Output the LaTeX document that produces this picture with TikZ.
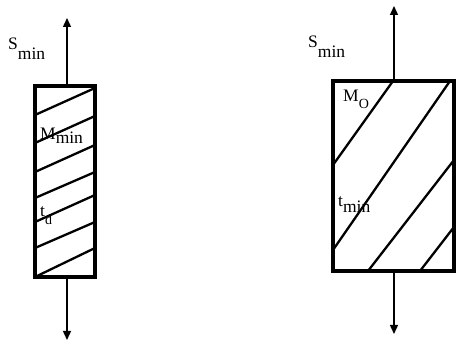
\documentclass[tikz,border=0pt]{standalone}
\usepackage{fontspec}
\setmainfont{Liberation Serif}
\usetikzlibrary{arrows.meta}
\begin{document}
\begin{tikzpicture}[x=1pt,y=-1pt,
  box/.style={draw, line width=3.6pt, inner sep=0pt, outer sep=0pt},
  hatch/.style={line width=2.3pt},
  force/.style={line width=1.4pt, -{Triangle[length=9pt,width=8pt]}},
  lbl/.style={font=\fontsize{17.5}{20}\selectfont, inner sep=0pt, anchor=base west}]
\useasboundingbox (0,0) rectangle (458,347);
% hatching, left specimen
\draw[hatch] (35,115) -- (95,88);
\draw[hatch] (35,143) -- (95,116);
\draw[hatch] (35,172) -- (95,145);
\draw[hatch] (35,198) -- (95,172);
\draw[hatch] (35,222) -- (95,195);
\draw[hatch] (35,248) -- (95,222);
\draw[hatch] (35,277) -- (95,248);
% hatching, right specimen
\draw[hatch] (333,165) -- (393,81);
\draw[hatch] (333,250) -- (450,81);
\draw[hatch] (368,271) -- (454,160);
\draw[hatch] (420,271) -- (454,227);
% specimens
\node[box, minimum width=60pt, minimum height=191pt] (L) at (65,181.5) {};
\node[box, minimum width=121pt, minimum height=190pt] (R) at (393.5,176) {};
% loads
\coordinate (Ltop) at (67,18);
\coordinate (Lbot) at (67,340);
\coordinate (Rtop) at (394,6);
\coordinate (Rbot) at (394,334);
\draw[force] (L.north -| Ltop) -- (Ltop);
\draw[force] (L.south -| Lbot) -- (Lbot);
\draw[force] (R.north -| Rtop) -- (Rtop);
\draw[force] (R.south -| Rbot) -- (Rbot);
% labels
\node[lbl] (s1) at (8,50) {S\raisebox{-10pt}{min}};
\node[lbl] (s2) at (308,48) {S\raisebox{-10pt}{min}};
\node[lbl] (m1) at (40,140) {M\raisebox{-4pt}{min}};
\node[lbl] (t1) at (40,217) {t\raisebox{-8pt}{\fontsize{14}{14}\selectfont d}};
\node[lbl] (m2) at (343,102) {M\raisebox{-7pt}{\fontsize{14}{14}\selectfont O}};
\node[lbl] (t2) at (338,207) {t\raisebox{-6pt}{min}};
\end{tikzpicture}
\end{document}
